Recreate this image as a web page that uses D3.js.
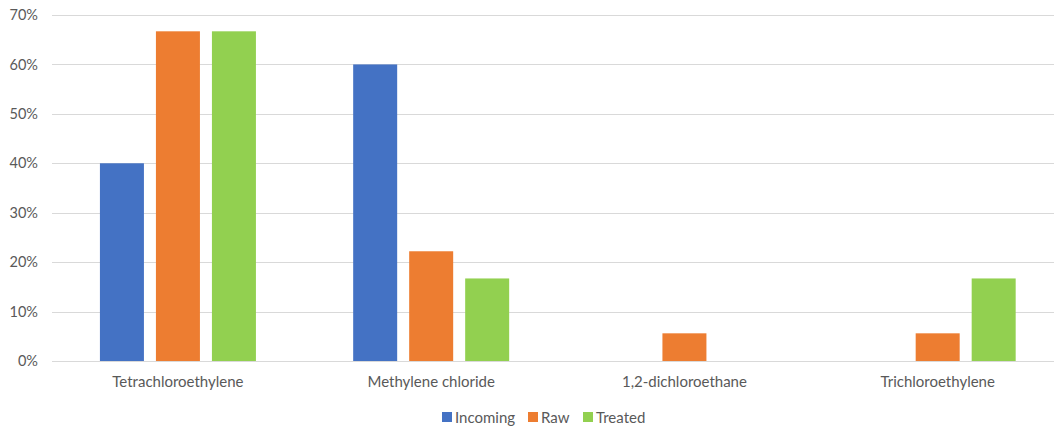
<!DOCTYPE html>
<html>
<head>
<meta charset="utf-8">
<script src="https://cdn.jsdelivr.net/npm/d3@7"></script>
<style>
  html, body { margin: 0; padding: 0; background: #fff; }
  svg { display: block; }
  text { font-family: Lato, "Open Sans", sans-serif; fill: #595959; }
</style>
</head>
<body>
<svg id="chart" width="1054" height="427"></svg>
<script>
const categories = ["Tetrachloroethylene", "Methylene chloride", "1,2-dichloroethane", "Trichloroethylene"];
const seriesNames = ["Incoming", "Raw", "Treated"];
const incoming = [0.40, 0.60, 0, 0];
const raw = [0.667, 0.222, 0.056, 0.056];
const treated = [0.667, 0.167, 0, 0.167];
const yTicks = [0, 0.1, 0.2, 0.3, 0.4, 0.5, 0.6, 0.7];
const colors = ["#4472C4", "#ED7D31", "#92D050"];

const seriesValues = [incoming, raw, treated];
const svg = d3.select("#chart");

const x = d3.scaleBand().domain(categories).range([51.3, 1064.3]).padding(0);
const xi = d3.scaleBand().domain(seriesNames).range([-78, 78]).paddingInner(12 / 56).paddingOuter(0);
const y = d3.scaleLinear().domain([0, 0.7]).range([361, 15]);

// gridlines
svg.append("g").selectAll("line").data(yTicks).join("line")
  .attr("x1", 52).attr("x2", 1064)
  .attr("y1", d => Math.round(y(d)) + 0.5).attr("y2", d => Math.round(y(d)) + 0.5)
  .attr("stroke", "#D9D9D9").attr("stroke-width", 1);

// y labels
const yAxis = d3.axisLeft(y).tickValues(yTicks).tickFormat(d3.format(".0%")).tickSize(0).tickPadding(0);
const ya = svg.append("g").attr("transform", "translate(38,0)").call(yAxis);
ya.select(".domain").remove();
ya.selectAll("text").style("font-size", "14.5px").attr("fill", "#595959")
  .style("font-family", "Lato, 'Open Sans', sans-serif");

// bars
const groups = svg.append("g").selectAll("g").data(categories).join("g")
  .attr("transform", d => `translate(${x(d) + x.bandwidth() / 2},0)`);
groups.selectAll("rect")
  .data((c, i) => seriesNames.map((s, j) => ({ s, v: seriesValues[j][i], j })))
  .join("rect")
  .filter(d => d.v > 0)
  .attr("x", d => xi(d.s))
  .attr("width", xi.bandwidth())
  .attr("y", d => y(d.v))
  .attr("height", d => y(0) - y(d.v))
  .attr("fill", d => colors[d.j]);

// x labels
const xAxis = d3.axisBottom(x).tickSize(0).tickPadding(0);
const xa = svg.append("g").attr("transform", "translate(0,376)").call(xAxis);
xa.select(".domain").remove();
xa.selectAll("text").style("font-size", "15px").attr("fill", "#595959")
  .style("font-family", "Lato, 'Open Sans', sans-serif");

// legend
const legendX = [442, 528, 583];
const leg = svg.append("g").selectAll("g").data(seriesNames).join("g")
  .attr("transform", (d, i) => `translate(${legendX[i]},412)`);
leg.append("rect").attr("width", 10).attr("height", 10).attr("fill", (d, i) => colors[i]);
leg.append("text").attr("x", 13).attr("y", 10.5).style("font-size", "15px").text(d => d);
</script>
</body>
</html>
